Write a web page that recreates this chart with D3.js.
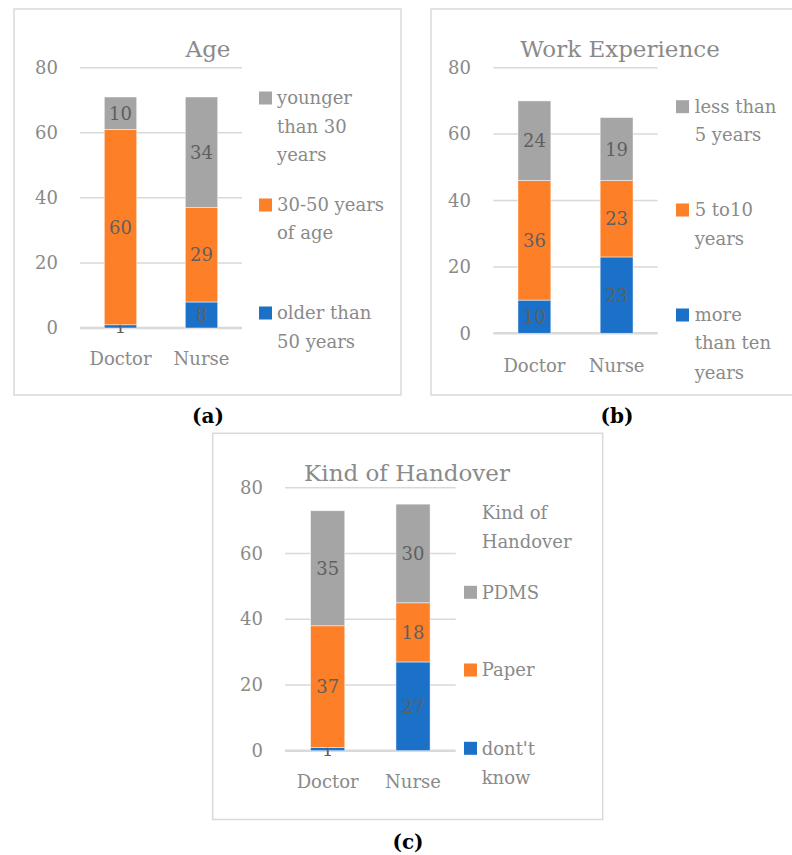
<!DOCTYPE html>
<html>
<head>
<meta charset="utf-8">
<script src="https://cdn.jsdelivr.net/npm/d3@7"></script>
<style>
  html, body { margin: 0; padding: 0; background: #fff; }
  svg { display: block; }
  text { font-family: "DejaVu Serif", "Liberation Serif", serif; }
</style>
</head>
<body>
<svg id="chart" width="792" height="855"></svg>
<script>
// Shared categories and axis ticks
const categories = ["Doctor", "Nurse"];
const tickValues = [0, 20, 40, 60, 80];

// (a) Age
const ageSeries = ["older than 50 years", "30-50 years of age", "younger than 30 years"];
const ageDoctor = [1, 60, 10];
const ageNurse = [8, 29, 34];
const ageLegendLines = [["older than", "50 years"], ["30-50 years", "of age"], ["younger", "than 30", "years"]];

// (b) Work Experience
const expSeries = ["more than ten years", "5 to10 years", "less than 5 years"];
const expDoctor = [10, 36, 24];
const expNurse = [23, 23, 19];
const expLegendLines = [["more", "than ten", "years"], ["5 to10", "years"], ["less than", "5 years"]];

// (c) Kind of Handover
const handSeries = ["dont't know", "Paper", "PDMS"];
const handDoctor = [1, 37, 35];
const handNurse = [27, 18, 30];
const handLegendLines = [["dont't", "know"], ["Paper"], ["PDMS"]];
const handLegendTitle = ["Kind of", "Handover"];

const colors = ["#1b70c8", "#fd7f27", "#a5a5a5"];
const axisColor = "#8a8a8a";
const labelColor = "#5f5f5f";
const gridColor = "#d9d9d9";

const svg = d3.select("#chart");

function drawPanel(cfg) {
  const g = svg.append("g");

  // frame
  g.append("rect")
    .attr("x", cfg.frame[0]).attr("y", cfg.frame[1])
    .attr("width", cfg.frame[2] - cfg.frame[0]).attr("height", cfg.frame[3] - cfg.frame[1])
    .attr("fill", "#fff").attr("stroke", "#d9d9d9").attr("stroke-width", 1.5);

  const y = d3.scaleLinear().domain([0, 80]).range([cfg.y0, cfg.y80]);
  const x = d3.scaleBand().domain(categories).range([cfg.x0, cfg.x1])
    .paddingInner(0.6).paddingOuter(0.3);

  // gridlines
  g.append("g").selectAll("line").data(tickValues).join("line")
    .attr("x1", cfg.x0).attr("x2", cfg.x1)
    .attr("y1", d => y(d)).attr("y2", d => y(d))
    .attr("stroke", gridColor).attr("stroke-width", d => d === 0 ? 2.5 : 1.5);

  // y axis labels
  const yAxis = d3.axisLeft(y).tickValues(tickValues).tickSize(0).tickPadding(0);
  const ya = g.append("g").attr("transform", `translate(${cfg.tickX},0)`).call(yAxis);
  ya.select(".domain").remove();
  ya.selectAll("text").attr("fill", axisColor).attr("font-size", 18)
    .attr("font-family", "DejaVu Serif");

  // stacked bars
  const rows = categories.map((c, i) => {
    const r = { cat: c };
    cfg.series.forEach((s, j) => { r[s] = cfg.values[i][j]; });
    return r;
  });
  const stacked = d3.stack().keys(cfg.series)(rows);
  const layers = g.append("g").selectAll("g").data(stacked).join("g")
    .attr("fill", (d, i) => colors[i]);
  layers.selectAll("rect").data(d => d).join("rect")
    .attr("x", d => x(d.data.cat))
    .attr("width", x.bandwidth())
    .attr("y", d => y(d[1]))
    .attr("height", d => y(d[0]) - y(d[1]))
    .attr("stroke", "rgba(255,255,255,0.6)").attr("stroke-width", 0.8);

  // value labels
  layers.selectAll("text").data(d => d).join("text")
    .attr("x", d => x(d.data.cat) + x.bandwidth() / 2)
    .attr("y", d => y((d[0] + d[1]) / 2))
    .attr("dy", "0.36em")
    .attr("text-anchor", "middle")
    .attr("fill", labelColor).attr("font-size", 18)
    .text(d => d[1] - d[0]);

  // x axis category labels
  const xAxis = d3.axisBottom(x).tickSize(0).tickPadding(0);
  const xa = g.append("g").attr("transform", `translate(0,${cfg.catY})`).call(xAxis);
  xa.select(".domain").remove();
  xa.selectAll("text").attr("fill", axisColor).attr("font-size", 18)
    .attr("font-family", "DejaVu Serif").attr("dy", 0);

  // title
  g.append("text")
    .attr("x", cfg.titleX).attr("y", cfg.titleY)
    .attr("text-anchor", "middle")
    .attr("fill", axisColor).attr("font-size", 23)
    .text(cfg.title);

  // legend
  const lg = g.append("g");
  if (cfg.legendTitle) {
    cfg.legendTitle.forEach((t, k) => {
      lg.append("text").attr("x", cfg.legTextX).attr("y", cfg.legTitleY[k])
        .attr("dy", "0.35em").attr("fill", axisColor).attr("font-size", 18).text(t);
    });
  }
  cfg.series.forEach((s, i) => {
    const lines = cfg.legendLines[i];
    const ys = cfg.legY[i];
    lg.append("rect")
      .attr("x", cfg.legSqX).attr("y", ys[0] - 6.5)
      .attr("width", 13).attr("height", 13).attr("fill", colors[i]);
    lines.forEach((t, k) => {
      lg.append("text").attr("x", cfg.legTextX).attr("y", ys[k])
        .attr("dy", "0.35em").attr("fill", axisColor).attr("font-size", 18).text(t);
    });
  });

  // panel tag: (a), (b), (c)
  const tag = svg.append("text")
    .attr("x", cfg.tagX).attr("y", cfg.tagY)
    .attr("text-anchor", "middle").attr("dy", "0.35em")
    .attr("font-size", 20).attr("font-weight", "bold").attr("fill", "#000");
  tag.append("tspan").text("(");
  tag.append("tspan").text(cfg.tag);
  tag.append("tspan").text(")");
}

drawPanel({
  frame: [14, 9, 401, 395],
  x0: 80, x1: 242, y0: 328, y80: 67.7, tickX: 58, catY: 365,
  title: "Age", titleX: 208, titleY: 57,
  series: ageSeries, values: [ageDoctor, ageNurse], legendLines: ageLegendLines,
  legSqX: 259, legTextX: 277,
  legY: [[313, 342], [205, 233], [98, 127, 155]],
  tag: "a", tagX: 208, tagY: 416
});

drawPanel({
  frame: [431, 9, 800, 395],
  x0: 493.3, x1: 657.7, y0: 333.3, y80: 67.7, tickX: 471, catY: 371.5,
  title: "Work Experience", titleX: 620, titleY: 57,
  series: expSeries, values: [expDoctor, expNurse], legendLines: expLegendLines,
  legSqX: 676, legTextX: 694.7,
  legY: [[315, 343, 372.7], [210, 239], [106.7, 135]],
  tag: "b", tagX: 617, tagY: 416
});

drawPanel({
  frame: [212.7, 433.3, 602.7, 819.5],
  x0: 285, x1: 455.7, y0: 750.7, y80: 487.7, tickX: 263, catY: 788,
  title: "Kind of Handover", titleX: 407, titleY: 480.7,
  series: handSeries, values: [handDoctor, handNurse], legendLines: handLegendLines,
  legendTitle: handLegendTitle, legTitleY: [512.7, 541.7],
  legSqX: 464, legTextX: 481.7,
  legY: [[748.3, 777.3], [670], [592.3]],
  tag: "c", tagX: 408, tagY: 842
});
</script>
</body>
</html>
